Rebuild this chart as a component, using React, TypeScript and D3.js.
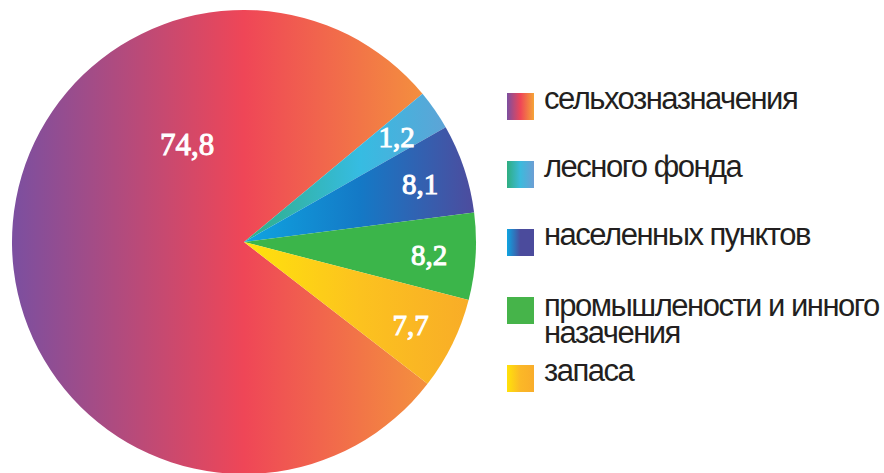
import React from "react";
import * as d3 from "d3";

// land categories, legend order
const categories = [
  "сельхозназначения",
  "лесного фонда",
  "населенных пунктов",
  "промышлености и инного\nназачения",
  "запаса",
];
// printed values, %
const values = [74.8, 1.2, 8.1, 8.2, 7.7];
// share of the circle each slice takes in the picture (the original is not drawn to scale)
const drawnShare = [78.5, 2.8, 6.2, 6.05, 6.45];

// gradient stops for every slice / legend swatch
const sliceStops: string[][] = [
  ["#7b4fa0", "#ef4657", "#f5a437"],
  ["#30ae84", "#36bce2", "#6b9bd2"],
  ["#0fa5e1", "#1479c6", "#4e4b9d"],
  ["#3bb54a", "#3bb54a", "#3bb54a"],
  ["#ffe30c", "#fcc21f", "#f8ab28"],
];
const swatchStops: string[][] = [
  ["#7b4fa0", "#ef4657", "#f5a437"],
  ["#2fae80", "#3cbadc", "#6c9ed4"],
  ["#0fa5e1", "#4b4b9c", "#4b4b9c"],
  ["#46b44a", "#46b44a", "#46b44a"],
  ["#ffe20a", "#fbb827", "#f9ad2b"],
];

const W = 884;
const H = 473;
const cx = 244;
const cy = 242;
const radius = 232;
const startDeg = 127.7; // where the big slice begins, clockwise from 12 o'clock

const fmt = d3.formatLocale({
  decimal: ",",
  thousands: " ",
  grouping: [3],
  currency: ["", ""],
}).format(".1f");

export default function App() {
  const a0 = (startDeg * Math.PI) / 180;
  const pie = d3
    .pie<number>()
    .sort(null)
    .value((d) => d)
    .startAngle(a0)
    .endAngle(a0 + 2 * Math.PI);
  const arcs = pie(drawnShare);

  const arc = d3.arc<d3.PieArcDatum<number>>().innerRadius(0).outerRadius(radius);
  const labelArc = d3
    .arc<d3.PieArcDatum<number>>()
    .innerRadius(radius * 0.8)
    .outerRadius(radius * 0.8);

  // the big slice's number sits up-left of the centre
  const bigAngle = (-30 * Math.PI) / 180;
  const bigR = radius * 0.49;

  const legendY = d3
    .scaleLinear()
    .domain([0, categories.length - 1])
    .range([93, 365]);

  return (
    <svg
      width={W}
      height={H}
      style={{ position: "absolute", left: 0, top: 0, background: "#fff" }}
    >
      <defs>
        {sliceStops.map((stops, i) => (
          <linearGradient
            key={"g" + i}
            id={"slice" + i}
            gradientUnits="userSpaceOnUse"
            x1={i === 0 ? -radius : 0}
            x2={radius}
            y1={0}
            y2={0}
          >
            {stops.map((c, j) => (
              <stop key={j} offset={j / (stops.length - 1)} stopColor={c} />
            ))}
          </linearGradient>
        ))}
        {swatchStops.map((stops, i) => (
          <linearGradient key={"s" + i} id={"swatch" + i} x1="0" x2="1" y1="0" y2="0">
            {stops.map((c, j) => (
              <stop key={j} offset={j / (stops.length - 1)} stopColor={c} />
            ))}
          </linearGradient>
        ))}
      </defs>

      <g transform={`translate(${cx},${cy})`}>
        {arcs.map((d, i) => (
          <path key={i} d={arc(d) || ""} fill={`url(#slice${i})`} />
        ))}
      </g>

      {/* value labels */}
      <g
        transform={`translate(${cx},${cy})`}
        fontFamily="'Liberation Serif', 'DejaVu Serif', serif"
        fill="#fff"
        stroke="#fff"
        strokeWidth={1}
        textAnchor="middle"
      >
        {arcs.map((d, i) => {
          const [x, y] =
            i === 0
              ? [bigR * Math.sin(bigAngle), -bigR * Math.cos(bigAngle)]
              : labelArc.centroid(d);
          return (
            <text key={i} x={x} y={y} dy="0.38em" fontSize={i === 0 ? 31 : 29}>
              {fmt(values[i])}
            </text>
          );
        })}
      </g>

      {/* legend */}
      <g fontFamily="'Liberation Sans', Arial, sans-serif" fill="#231f20">
        {categories.map((c, i) => {
          const y = legendY(i);
          const lines = c.split("\n");
          return (
            <g key={i}>
              <rect x={507} y={y} width={27} height={27} fill={`url(#swatch${i})`} />
              {lines.map((l, k) => (
                <text
                  key={k}
                  x={544}
                  y={y + (lines.length > 1 ? 19 : 16) + k * 27}
                  fontSize={31}
                  letterSpacing={-1.5}
                >
                  {l}
                </text>
              ))}
            </g>
          );
        })}
      </g>
    </svg>
  );
}
